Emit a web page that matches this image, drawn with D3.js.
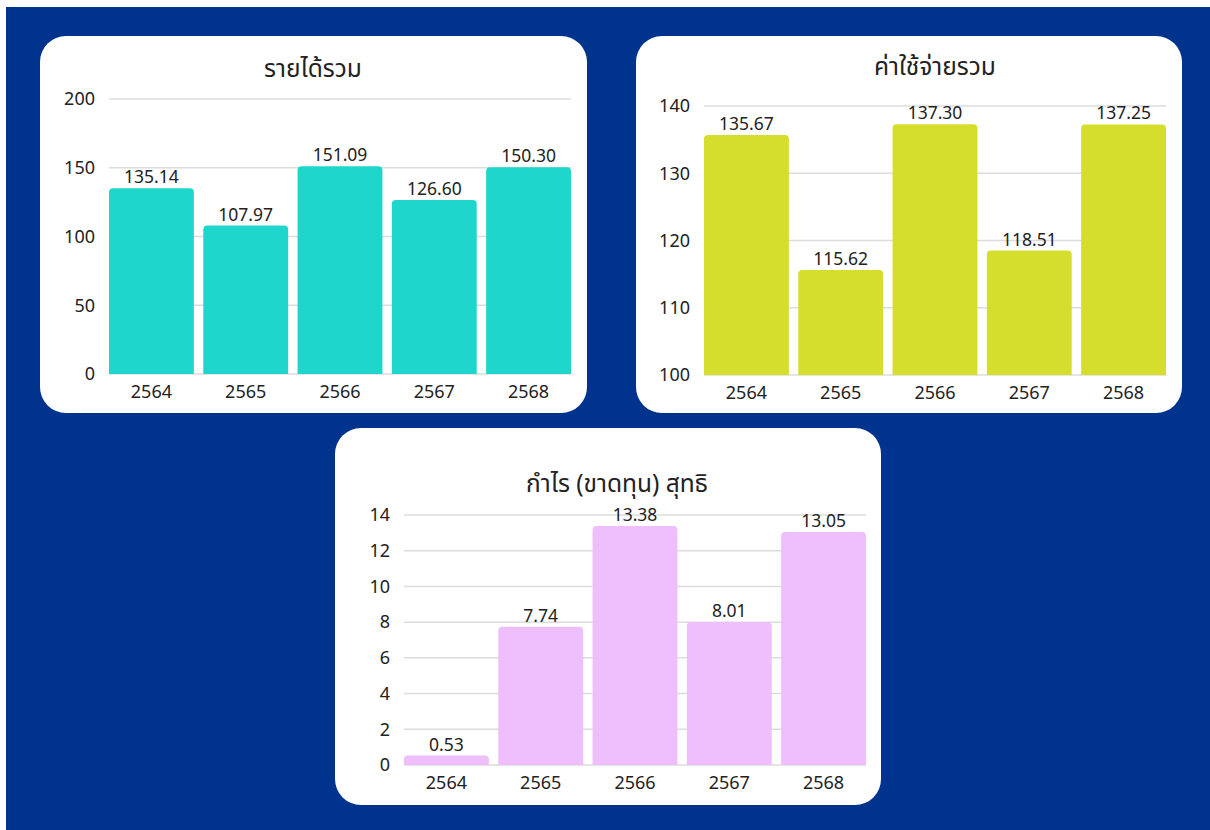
<!DOCTYPE html>
<html>
<head>
<meta charset="utf-8">
<title>Financial summary</title>
<style>
body { margin: 0; background: #fff; }
svg text { font-family: "Noto Sans Thai", "Noto Sans", "DejaVu Sans", sans-serif; fill: #222; }
.grid line { stroke: #dcdcdc; stroke-width: 1.5px; }
.tick-label { font-size: 18px; }
.cat-label { font-size: 18px; }
.value-label { font-size: 17.5px; }
.title { font-size: 24.5px; }
</style>
</head>
<body>
<script src="https://cdnjs.cloudflare.com/ajax/libs/d3/7.8.5/d3.min.js"></script>
<script>

// data
var years = ["2564", "2565", "2566", "2567", "2568"];

var revenue = [135.14, 107.97, 151.09, 126.60, 150.30];
var expenses = [135.67, 115.62, 137.30, 118.51, 137.25];
var netProfit = [0.53, 7.74, 13.38, 8.01, 13.05];

var revenueTicks = [0, 50, 100, 150, 200];
var expenseTicks = [100, 110, 120, 130, 140];
var profitTicks = [0, 2, 4, 6, 8, 10, 12, 14];

var titles = ["รายได้รวม", "ค่าใช้จ่ายรวม", "กำไร (ขาดทุน) สุทธิ"];

var width = 1210,
    height = 830;

// layout of each card
var charts = [
  { title: titles[0], values: revenue, ticks: revenueTicks, color: "#1ed6cb",
    box: [40, 36, 547, 377], x0: 109, x1: 571, yTop: 99, yBot: 374, titleX: 313, titleY: 77 },
  { title: titles[1], values: expenses, ticks: expenseTicks, color: "#d6de2d",
    box: [636, 36, 546, 377], x0: 704, x1: 1166, yTop: 106, yBot: 375, titleX: 935, titleY: 75 },
  { title: titles[2], values: netProfit, ticks: profitTicks, color: "#eebefd",
    box: [335, 428, 546, 377], x0: 404, x1: 866, yTop: 515, yBot: 765, titleX: 617, titleY: 492 }
];

var svg = d3.select("body").append("svg")
    .attr("width", width)
    .attr("height", height);

svg.append("rect")
    .attr("x", 6)
    .attr("y", 7)
    .attr("width", width - 6)
    .attr("height", height - 7)
    .attr("fill", "#00338d");

// bar with rounded top corners only
function barPath(x, y, w, h, r) {
  r = Math.min(r, h, w / 2);
  return "M" + x + "," + (y + h) +
    "V" + (y + r) +
    "Q" + x + "," + y + " " + (x + r) + "," + y +
    "H" + (x + w - r) +
    "Q" + (x + w) + "," + y + " " + (x + w) + "," + (y + r) +
    "V" + (y + h) + "Z";
}

charts.forEach(function(c) {
  var g = svg.append("g");

  g.append("rect")
      .attr("x", c.box[0])
      .attr("y", c.box[1])
      .attr("width", c.box[2])
      .attr("height", c.box[3])
      .attr("rx", 26)
      .attr("fill", "#fff");

  var x = d3.scaleBand()
      .domain(years)
      .range([c.x0, c.x1])
      .paddingInner(0.1)
      .paddingOuter(0);

  var y = d3.scaleLinear()
      .domain(d3.extent(c.ticks))
      .range([c.yBot, c.yTop]);

  // gridlines
  var grid = g.append("g").attr("class", "grid");
  grid.selectAll("line")
      .data(c.ticks)
    .enter().append("line")
      .attr("x1", c.x0)
      .attr("x2", c.x1)
      .attr("y1", function(d) { return y(d); })
      .attr("y2", function(d) { return y(d); });

  g.selectAll(".tick-label")
      .data(c.ticks)
    .enter().append("text")
      .attr("class", "tick-label")
      .attr("x", c.x0 - 14)
      .attr("y", function(d) { return y(d); })
      .attr("dy", "0.35em")
      .attr("text-anchor", "end")
      .text(function(d) { return d; });

  var base = y.domain()[0];

  g.selectAll(".bar")
      .data(c.values)
    .enter().append("path")
      .attr("class", "bar")
      .attr("fill", c.color)
      .attr("d", function(d, i) {
        return barPath(x(years[i]), y(d), x.bandwidth(), y(base) - y(d), 4);
      });

  g.selectAll(".value-label")
      .data(c.values)
    .enter().append("text")
      .attr("class", "value-label")
      .attr("x", function(d, i) { return x(years[i]) + x.bandwidth() / 2; })
      .attr("y", function(d) { return y(d) - 5; })
      .attr("text-anchor", "middle")
      .text(function(d) { return d.toFixed(2); });

  g.selectAll(".cat-label")
      .data(years)
    .enter().append("text")
      .attr("class", "cat-label")
      .attr("x", function(d) { return x(d) + x.bandwidth() / 2; })
      .attr("y", c.yBot + 24)
      .attr("text-anchor", "middle")
      .text(function(d) { return d; });

  g.append("text")
      .attr("class", "title")
      .attr("x", c.titleX)
      .attr("y", c.titleY)
      .attr("text-anchor", "middle")
      .text(c.title);
});

</script>
</body>
</html>
